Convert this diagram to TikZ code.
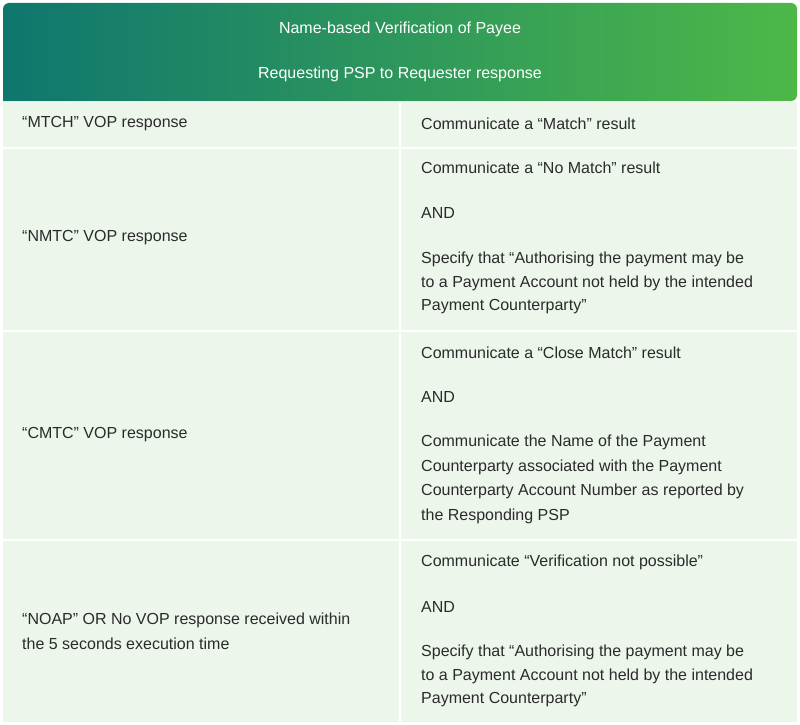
\documentclass[tikz,border=0pt]{standalone}
\usepackage{fontspec}
\setmainfont{Liberation Sans}
\begin{document}
\begin{tikzpicture}[x=1pt,y=-1pt,
  cell/.style={fill=cellbg,draw=none},
  txt/.style={anchor=west,inner sep=0pt,font=\fontsize{16}{19}\selectfont,text=txtcol},
  head/.style={anchor=center,inner sep=0pt,font=\fontsize{16}{19}\selectfont,text=white}]
\definecolor{cellbg}{HTML}{ECF6EB}
\definecolor{txtcol}{HTML}{2B2B2B}
\definecolor{gA}{HTML}{0F766F}
\definecolor{gB}{HTML}{4DB848}
\useasboundingbox (0,0) rectangle (800,725);
\fill[white] (0,0) rectangle (800,725);
\shade[left color=gA,right color=gB,rounded corners=6pt] (3,101) -- (3,3) -- (797,3) -- (797,101) [sharp corners] -- cycle;
\fill[cell] (3,102) rectangle (399,147);
\fill[cell] (401,102) rectangle (797,147);
\fill[cell] (3,149) rectangle (399,330);
\fill[cell] (401,149) rectangle (797,330);
\fill[cell] (3,332) rectangle (399,539);
\fill[cell] (401,332) rectangle (797,539);
\fill[cell] (3,541) rectangle (399,722);
\fill[cell] (401,541) rectangle (797,722);
\node[head] (h1) at (400,29) {Name-based Verification of Payee};
\node[head] (h2) at (400,74) {Requesting PSP to Requester response};
\node[txt] (a1) at (22,124) {“MTCH” VOP response};
\node[txt] (b1) at (421,124) {Communicate a “Match” result};
\node[txt] (a2) at (22,238) {“NMTC” VOP response};
\node[txt] (b2a) at (421,168) {Communicate a “No Match” result};
\node[txt] (b2b) at (421,213) {AND};
\node[txt] (b2c) at (421,259) {Specify that “Authorising the payment may be};
\node[txt] (b2d) at (421,283) {to a Payment Account not held by the intended};
\node[txt] (b2e) at (421,307) {Payment Counterparty”};
\node[txt] (a3) at (22,435) {“CMTC” VOP response};
\node[txt] (b3a) at (421,353) {Communicate a “Close Match” result};
\node[txt] (b3b) at (421,397) {AND};
\node[txt] (b3c) at (421,442) {Communicate the Name of the Payment};
\node[txt] (b3d) at (421,467) {Counterparty associated with the Payment};
\node[txt] (b3e) at (421,491) {Counterparty Account Number as reported by};
\node[txt] (b3f) at (421,516) {the Responding PSP};
\node[txt] (a4a) at (22,620) {“NOAP” OR No VOP response received within};
\node[txt] (a4b) at (22,644) {the 5 seconds execution time};
\node[txt] (b4a) at (421,562) {Communicate “Verification not possible”};
\node[txt] (b4b) at (421,607) {AND};
\node[txt] (b4c) at (421,652) {Specify that “Authorising the payment may be};
\node[txt] (b4d) at (421,676) {to a Payment Account not held by the intended};
\node[txt] (b4e) at (421,700) {Payment Counterparty”};
\end{tikzpicture}
\end{document}
